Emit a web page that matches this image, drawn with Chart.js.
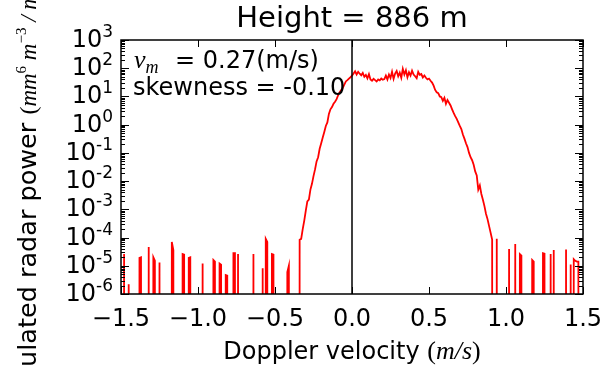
<!DOCTYPE html>
<html>
<head>
<meta charset="utf-8">
<script src="https://cdn.jsdelivr.net/npm/chart.js@4/dist/chart.umd.min.js"></script>
<style>
  body { margin: 0; background: #fff; }
</style>
</head>
<body>
<canvas id="chart" width="615" height="369"></canvas>
<script>
// Doppler spectrum at 886 m, velocity bins (m/s) and power; 0 = empty bin
const velocity = [
  -1.50, -1.49, -1.48, -1.47, -1.46, -1.45, -1.44,
  -1.39, -1.38, -1.37, -1.36, -1.33, -1.32, -1.31, -1.30, -1.29, -1.28, -1.27,
  -1.26, -1.25, -1.24, -1.18, -1.17, -1.16, -1.15,
  -1.11, -1.10, -1.09, -1.08, -1.07, -1.06, -1.05, -1.04,
  -0.98, -0.97, -0.96, -0.91, -0.90, -0.89, -0.88,
  -0.87, -0.86, -0.85, -0.84, -0.83, -0.82, -0.81, -0.80,
  -0.78, -0.77, -0.76, -0.75, -0.74, -0.73,
  -0.65, -0.64, -0.63, -0.59, -0.58, -0.57, -0.56, -0.55, -0.54,
  -0.53, -0.52, -0.51, -0.50, -0.43, -0.42, -0.41, -0.40,
  -0.35, -0.34, -0.33, -0.32, -0.31, -0.30, -0.29, -0.28, -0.27, -0.26,
  -0.25, -0.24, -0.23, -0.22, -0.21, -0.20, -0.19, -0.18, -0.17, -0.16,
  -0.15, -0.14, -0.13, -0.12, -0.11, -0.10, -0.09, -0.08, -0.07, -0.06,
  -0.05, -0.04, -0.03, -0.02, -0.01, 0.00, 0.01, 0.02, 0.03, 0.04,
  0.05, 0.06, 0.07, 0.08, 0.09, 0.10, 0.11, 0.12, 0.13, 0.14,
  0.15, 0.16, 0.17, 0.18, 0.19, 0.20, 0.21, 0.22, 0.23, 0.24,
  0.25, 0.26, 0.27, 0.28, 0.29, 0.30, 0.31, 0.32, 0.33, 0.34,
  0.35, 0.36, 0.37, 0.38, 0.39, 0.40, 0.41, 0.42, 0.43, 0.44,
  0.45, 0.46, 0.47, 0.48, 0.49, 0.50, 0.51, 0.52, 0.53, 0.54,
  0.55, 0.56, 0.57, 0.58, 0.59, 0.60, 0.61, 0.62, 0.63, 0.64,
  0.65, 0.66, 0.67, 0.68, 0.69, 0.70, 0.71, 0.72, 0.73, 0.74,
  0.75, 0.76, 0.77, 0.78, 0.79, 0.80, 0.81, 0.82, 0.83, 0.84,
  0.85, 0.86, 0.87, 0.88, 0.89, 0.90, 0.91, 0.92,
  0.93, 0.94, 0.95, 1.01, 1.02, 1.03, 1.05, 1.06, 1.07,
  1.08, 1.09, 1.10, 1.11, 1.16, 1.17, 1.18, 1.19,
  1.23, 1.24, 1.25, 1.26, 1.28, 1.29, 1.30, 1.31, 1.32,
  1.38, 1.39, 1.40, 1.41, 1.42, 1.43, 1.44, 1.45, 1.46, 1.47, 1.48, 1.50
];
const power = [
  0, 0, 2.6e-5, 0, 0, 2.2e-6, 0,
  0, 1.9e-5, 2.0e-5, 0, 0, 4.6e-5, 0, 0, 2.0e-5, 1.5e-5, 0,
  0, 1.3e-5, 0, 0, 7.0e-5, 3.6e-5, 0,
  0, 2.6e-5, 2.5e-5, 0, 0, 1.9e-5, 2.0e-5, 0,
  0, 1.2e-5, 0, 0, 1.6e-5, 1.4e-5, 0,
  0, 1.2e-5, 1.1e-5, 0, 0, 4.7e-6, 4.5e-6, 0,
  0, 2.8e-5, 2.8e-5, 0, 2.6e-5, 0,
  0, 2.6e-5, 0, 0, 8.2e-6, 0, 9.0e-5, 7.0e-5, 0,
  0, 2.6e-5, 2.5e-5, 0, 0, 6.0e-6, 1.0e-5, 0,
  0, 8.4e-5, 9.0e-5, 2.0e-4, 4.0e-4, 9.0e-4, 1.9e-3, 2.2e-3, 5.0e-3, 8.0e-3,
  1.5e-2, 2.6e-2, 5.0e-2, 7.0e-2, 1.4e-1, 2.2e-1, 3.5e-1, 5.5e-1, 9.0e-1, 1.2,
  2.4, 3.5, 4.2, 5.5, 6.5, 8.0, 11, 14, 17, 20,
  26, 34, 38, 43, 48, 54, 65, 78, 60, 75,
  64, 56, 68, 50, 58, 44, 62, 40, 36, 42,
  38, 34, 40, 37, 43, 39, 41, 55, 40, 60,
  45, 75, 42, 65, 80, 52, 70, 46, 95, 60,
  85, 48, 72, 55, 82, 60, 52, 44, 74, 58,
  62, 47, 55, 46, 40, 43, 36, 31, 24, 17,
  14, 13, 10, 9.5, 7.0, 9.0, 5.5, 7.5, 6.0, 4.8,
  3.5, 2.6, 2.0, 1.6, 1.2, 9.0e-1, 7.0e-1, 4.5e-1, 3.2e-1, 2.2e-1,
  1.6e-1, 1.0e-1, 7.0e-2, 5.5e-2, 3.8e-2, 2.2e-2, 1.6e-2, 5.0e-3, 7.0e-3, 3.5e-3,
  2.2e-3, 1.3e-3, 7.0e-4, 4.5e-4, 2.6e-4, 1.5e-4, 8.5e-5, 0,
  0, 9.0e-5, 0, 0, 3.9e-5, 0, 0, 5.9e-5, 0,
  0, 2.6e-5, 2.3e-5, 0, 0, 1.6e-5, 1.4e-5, 0,
  0, 2.8e-5, 2.7e-5, 0, 0, 2.6e-5, 0, 3.6e-5, 0,
  0, 3.8e-5, 0, 0, 1.1e-5, 0, 1.7e-5, 1.5e-5, 1.4e-5, 1.4e-5, 0, 0
];

const xTickValues = [-1.5, -1.0, -0.5, 0.0, 0.5, 1.0, 1.5];
const xTickLabels = ['\u22121.5', '\u22121.0', '\u22120.5', '0.0', '0.5', '1.0', '1.5'];
const yTickValues = [1e-6, 1e-5, 1e-4, 1e-3, 1e-2, 1e-1, 1e0, 1e1, 1e2, 1e3];
const yTickExponents = ['-6', '-5', '-4', '-3', '-2', '-1', '0', '1', '2', '3'];

const meanVelocity = '0.27';
const skewness = '-0.10';
const height = 886;

const sans = '"DejaVu Sans"';
const serif = '"Liberation Serif"';

// log(0) in matplotlib drops straight off the bottom, do the same
const spectrum = velocity.map((v, i) => ({ x: v, y: power[i] > 0 ? power[i] : 1e-100 }));

function drawRuns(ctx, runs, x, y) {
  runs.forEach(r => {
    ctx.font = r.font;
    ctx.fillText(r.text, x, y + (r.dy || 0));
    x += ctx.measureText(r.text).width;
  });
  return x;
}

function runsWidth(ctx, runs) {
  let w = 0;
  runs.forEach(r => { ctx.font = r.font; w += ctx.measureText(r.text).width; });
  return w;
}

const decor = {
  id: 'decor',
  afterDraw(chart) {
    const ctx = chart.ctx;
    const a = chart.chartArea;
    const xs = chart.scales.x, ys = chart.scales.y;
    ctx.save();
    ctx.strokeStyle = '#000';
    ctx.lineWidth = 1.5;
    ctx.strokeRect(a.left, a.top, a.right - a.left, a.bottom - a.top);

    // inward ticks on all four sides
    ctx.lineWidth = 1;
    ctx.beginPath();
    xTickValues.forEach(v => {
      const px = Math.round(xs.getPixelForValue(v)) + 0.5;
      ctx.moveTo(px, a.bottom); ctx.lineTo(px, a.bottom - 7);
      ctx.moveTo(px, a.top); ctx.lineTo(px, a.top + 7);
    });
    yTickValues.forEach((v, i) => {
      const py = Math.round(ys.getPixelForValue(v)) + 0.5;
      ctx.moveTo(a.left, py); ctx.lineTo(a.left + 8, py);
      ctx.moveTo(a.right, py); ctx.lineTo(a.right - 8, py);
      if (i < yTickValues.length - 1) {
        for (let m = 2; m <= 9; m++) {
          const my = Math.round(ys.getPixelForValue(v * m)) + 0.5;
          ctx.moveTo(a.left, my); ctx.lineTo(a.left + 4, my);
          ctx.moveTo(a.right, my); ctx.lineTo(a.right - 4, my);
        }
      }
    });
    ctx.stroke();

    ctx.fillStyle = '#000';
    ctx.textBaseline = 'alphabetic';
    ctx.textAlign = 'left';
    const mid = (a.left + a.right) / 2;

    // y tick labels 10^n with a real raised exponent
    yTickValues.forEach((v, i) => {
      const runs = [
        { text: '10', font: '24px ' + sans },
        { text: yTickExponents[i], font: '17px ' + sans, dy: -10 }
      ];
      const py = ys.getPixelForValue(v);
      drawRuns(ctx, runs, a.left - 8 - runsWidth(ctx, runs), py + 7);
    });

    // title
    ctx.font = '29px ' + sans;
    ctx.textAlign = 'center';
    ctx.fillText('Height = ' + height + ' m', mid, 27);
    ctx.textAlign = 'left';

    // annotation
    drawRuns(ctx, [
      { text: 'v', font: 'italic 26px ' + serif },
      { text: 'm', font: 'italic 18px ' + serif, dy: 5 }
    ], a.left + 13, a.top + 28);
    ctx.font = '24px ' + sans;
    ctx.fillText('= ' + meanVelocity + '(m/s)', a.left + 54, a.top + 28);
    ctx.fillText('skewness = ' + skewness, a.left + 12, a.top + 55);

    // x title
    const xRuns = [
      { text: 'Doppler velocity ', font: '24px ' + sans },
      { text: '(', font: '26px ' + serif },
      { text: 'm/s', font: 'italic 26px ' + serif },
      { text: ')', font: '26px ' + serif }
    ];
    drawRuns(ctx, xRuns, mid - runsWidth(ctx, xRuns) / 2, 359);

    // y title, rotated and running off the canvas like the original
    ctx.translate(36, 415);
    ctx.rotate(-Math.PI / 2);
    drawRuns(ctx, [
      { text: 'Simulated radar power ', font: '25.5px ' + sans },
      { text: '(', font: '24px ' + serif },
      { text: 'mm', font: 'italic 23px ' + serif },
      { text: '6', font: '15px ' + serif, dy: -10 },
      { text: ' m', font: 'italic 23px ' + serif },
      { text: '\u22123', font: '15px ' + serif, dy: -10 },
      { text: ' / m s', font: 'italic 23px ' + serif },
      { text: '\u22121', font: '15px ' + serif, dy: -10 },
      { text: ')', font: '24px ' + serif }
    ], 0, 0);
    ctx.restore();
  }
};

new Chart(document.getElementById('chart'), {
  type: 'line',
  data: {
    datasets: [
      {
        data: [{ x: 0, y: yTickValues[yTickValues.length - 1] }, { x: 0, y: yTickValues[0] }],
        borderColor: '#000',
        borderWidth: 1.5,
        pointRadius: 0
      },
      {
        data: spectrum,
        borderColor: '#ff0000',
        borderWidth: 1.8,
        pointRadius: 0,
        tension: 0
      }
    ]
  },
  options: {
    responsive: false,
    animation: false,
    devicePixelRatio: 1,
    layout: { padding: { top: 40, right: 32, bottom: 0, left: 0 } },
    plugins: { legend: { display: false }, tooltip: { enabled: false } },
    scales: {
      x: {
        type: 'linear',
        min: -1.5,
        max: 1.5,
        afterBuildTicks: s => { s.ticks = xTickValues.map(v => ({ value: v })); },
        afterFit: s => { s.height = 75; },
        grid: { display: false },
        border: { display: false },
        ticks: {
          callback: (v, i) => xTickLabels[i],
          font: { family: 'DejaVu Sans', size: 24 },
          color: '#000',
          padding: 3,
          maxRotation: 0,
          autoSkip: false
        }
      },
      y: {
        type: 'logarithmic',
        min: 1e-6,
        max: 1e3,
        afterBuildTicks: s => { s.ticks = yTickValues.map(v => ({ value: v })); },
        afterFit: s => { s.width = 121; },
        grid: { display: false },
        border: { display: false },
        ticks: { display: false }
      }
    }
  },
  plugins: [decor]
});
</script>
</body>
</html>
